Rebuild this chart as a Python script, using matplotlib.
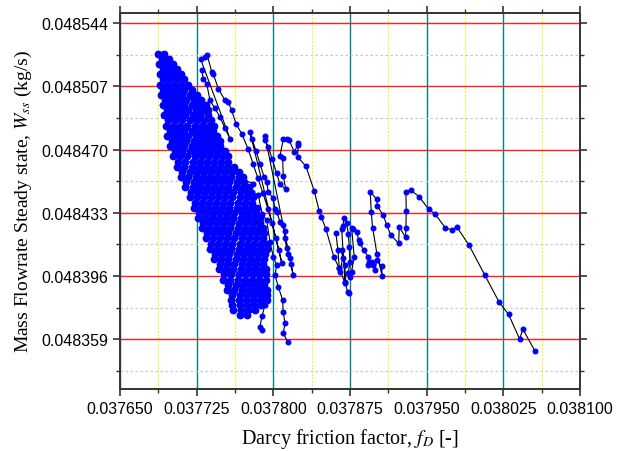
import matplotlib
matplotlib.use('Agg')
import matplotlib.pyplot as plt
from matplotlib.ticker import AutoMinorLocator, FormatStrFormatter

# dense cloud, read row by row (row y value, x values along the row)
band_row_y = [0.048526, 0.048523, 0.048520, 0.048517, 0.048514, 0.048511, 0.048508,
              0.048505, 0.048502, 0.048499, 0.048496, 0.048493, 0.048490, 0.048487,
              0.048484, 0.048481, 0.048478, 0.048475, 0.048472, 0.048469, 0.048466,
              0.048463, 0.048460, 0.048457, 0.048454, 0.048451, 0.048448, 0.048445,
              0.048442, 0.048439, 0.048436, 0.048433, 0.048430, 0.048427, 0.048424,
              0.048421, 0.048418, 0.048415, 0.048412, 0.048409, 0.048406, 0.048403,
              0.048400, 0.048397, 0.048394, 0.048391, 0.048388, 0.048385, 0.048382,
              0.048379, 0.048376, 0.048373]
band_row_x = [
    [0.037687, 0.037693],
    [0.037691, 0.037698],
    [0.037688, 0.037695, 0.037702],
    [0.037692, 0.037699, 0.037706],
    [0.037689, 0.037696, 0.037703, 0.037710],
    [0.037692, 0.037699, 0.037706, 0.037713],
    [0.037689, 0.037696, 0.037703, 0.037710, 0.037717],
    [0.037692, 0.037699, 0.037706, 0.037713, 0.037720],
    [0.037690, 0.037697, 0.037704, 0.037711, 0.037718, 0.037725],
    [0.037694, 0.037701, 0.037708, 0.037715, 0.037722, 0.037729],
    [0.037692, 0.037699, 0.037706, 0.037713, 0.037720, 0.037727, 0.037734],
    [0.037696, 0.037703, 0.037710, 0.037717, 0.037724, 0.037731, 0.037736],
    [0.037693, 0.037700, 0.037707, 0.037714, 0.037721, 0.037728, 0.037736],
    [0.037697, 0.037704, 0.037711, 0.037718, 0.037725, 0.037732, 0.037739],
    [0.037695, 0.037702, 0.037709, 0.037716, 0.037723, 0.037730, 0.037737, 0.037742],
    [0.037699, 0.037706, 0.037713, 0.037720, 0.037727, 0.037734, 0.037741],
    [0.037696, 0.037703, 0.037710, 0.037717, 0.037724, 0.037731, 0.037738, 0.037745],
    [0.037701, 0.037708, 0.037715, 0.037722, 0.037729, 0.037736, 0.037743, 0.037748],
    [0.037699, 0.037706, 0.037713, 0.037720, 0.037727, 0.037734, 0.037741, 0.037748],
    [0.037704, 0.037711, 0.037718, 0.037725, 0.037732, 0.037739, 0.037746, 0.037753],
    [0.037702, 0.037709, 0.037716, 0.037723, 0.037730, 0.037737, 0.037744, 0.037751, 0.037756],
    [0.037707, 0.037714, 0.037721, 0.037728, 0.037735, 0.037742, 0.037749, 0.037756],
    [0.037706, 0.037713, 0.037720, 0.037727, 0.037734, 0.037741, 0.037748, 0.037755, 0.037762],
    [0.037711, 0.037718, 0.037725, 0.037732, 0.037739, 0.037746, 0.037753, 0.037760, 0.037766],
    [0.037710, 0.037717, 0.037724, 0.037731, 0.037738, 0.037745, 0.037752, 0.037759, 0.037766, 0.037770],
    [0.037715, 0.037722, 0.037729, 0.037736, 0.037743, 0.037750, 0.037757, 0.037764, 0.037771],
    [0.037714, 0.037721, 0.037728, 0.037735, 0.037742, 0.037749, 0.037756, 0.037763, 0.037770, 0.037776],
    [0.037719, 0.037726, 0.037733, 0.037740, 0.037747, 0.037754, 0.037761, 0.037768, 0.037775],
    [0.037718, 0.037725, 0.037732, 0.037739, 0.037746, 0.037753, 0.037760, 0.037767, 0.037774, 0.037780],
    [0.037723, 0.037730, 0.037737, 0.037744, 0.037751, 0.037758, 0.037765, 0.037772, 0.037779],
    [0.037722, 0.037729, 0.037736, 0.037743, 0.037750, 0.037757, 0.037764, 0.037771, 0.037778, 0.037784],
    [0.037727, 0.037734, 0.037741, 0.037748, 0.037755, 0.037762, 0.037769, 0.037776, 0.037783],
    [0.037726, 0.037733, 0.037740, 0.037747, 0.037754, 0.037761, 0.037768, 0.037775, 0.037782, 0.037787],
    [0.037731, 0.037738, 0.037745, 0.037752, 0.037759, 0.037766, 0.037773, 0.037780, 0.037787],
    [0.037730, 0.037737, 0.037744, 0.037751, 0.037758, 0.037765, 0.037772, 0.037779, 0.037786, 0.037790],
    [0.037735, 0.037742, 0.037749, 0.037756, 0.037763, 0.037770, 0.037777, 0.037784, 0.037791],
    [0.037734, 0.037741, 0.037748, 0.037755, 0.037762, 0.037769, 0.037776, 0.037783, 0.037790],
    [0.037739, 0.037746, 0.037753, 0.037760, 0.037767, 0.037774, 0.037781, 0.037788, 0.037794],
    [0.037738, 0.037745, 0.037752, 0.037759, 0.037766, 0.037773, 0.037780, 0.037787, 0.037794],
    [0.037743, 0.037750, 0.037757, 0.037764, 0.037771, 0.037778, 0.037785, 0.037792],
    [0.037742, 0.037749, 0.037756, 0.037763, 0.037770, 0.037777, 0.037784, 0.037791],
    [0.037748, 0.037755, 0.037762, 0.037769, 0.037776, 0.037783, 0.037790],
    [0.037747, 0.037754, 0.037761, 0.037768, 0.037775, 0.037782, 0.037789, 0.037793],
    [0.037752, 0.037759, 0.037766, 0.037773, 0.037780, 0.037787, 0.037793],
    [0.037751, 0.037758, 0.037765, 0.037772, 0.037779, 0.037786, 0.037793],
    [0.037756, 0.037763, 0.037770, 0.037777, 0.037784, 0.037791],
    [0.037755, 0.037762, 0.037769, 0.037776, 0.037783, 0.037790, 0.037794],
    [0.037760, 0.037767, 0.037774, 0.037781, 0.037788, 0.037794],
    [0.037759, 0.037766, 0.037773, 0.037780, 0.037787, 0.037794],
    [0.037760, 0.037767, 0.037774, 0.037781, 0.037788],
    [0.037761, 0.037768, 0.037775, 0.037782],
    [0.037767, 0.037774],
]

# loose streaks right of the cloud
streak_x = [0.0377299, 0.0377315, 0.0377348, 0.0377380, 0.0377429, 0.0377478, 0.0377527, 0.0377576,
            0.0377289, 0.0377331, 0.0377354, 0.0377397, 0.0377412, 0.0377461, 0.0377527, 0.0377559,
            0.0377592, 0.0377634, 0.0377690, 0.0377752, 0.0377801, 0.0377850, 0.0377899, 0.0377947,
            0.0377987, 0.0378026, 0.0378055, 0.0378084,
            0.0377771, 0.0377788, 0.0377830, 0.0377869, 0.0377908, 0.0377935, 0.0377950, 0.0377999,
            0.0378016, 0.0378033, 0.0378065, 0.0378097, 0.0378114, 0.0378114, 0.0378130, 0.0378143,
            0.0378163, 0.0378172, 0.0378195,
            0.0377918, 0.0377918, 0.0377950, 0.0377987, 0.0378033, 0.0378065, 0.0378121, 0.0378097,
            0.0378091, 0.0378065,
            0.0378097, 0.0378136, 0.0378153, 0.0378205, 0.0378238, 0.0378244, 0.0378238, 0.0378319,
            0.0378400, 0.0378449, 0.0378469, 0.0378515, 0.0378593, 0.0378645, 0.0378703, 0.0378727,
            0.0378743]
streak_y = [0.0485163, 0.0485115, 0.0485086, 0.0484988, 0.0484940, 0.0484891, 0.0484823, 0.0484764,
            0.0485228, 0.0485243, 0.0485251, 0.0485154, 0.0485144, 0.0485056, 0.0484988, 0.0484979,
            0.0484930, 0.0484852, 0.0484793, 0.0484706, 0.0484618, 0.0484531, 0.0484443, 0.0484355,
            0.0484268, 0.0484180, 0.0484110, 0.0484034,
            0.0484803, 0.0484764, 0.0484694, 0.0484618, 0.0484542, 0.0484511, 0.0484453, 0.0484414,
            0.0484355, 0.0484336, 0.0484278, 0.0484258, 0.0484221, 0.0484180, 0.0484122, 0.0484092,
            0.0484063, 0.0484028, 0.0483966,
            0.0484780, 0.0484754, 0.0484716, 0.0484647, 0.0484560, 0.0484496, 0.0484468, 0.0484546,
            0.0484651, 0.0484663,
            0.0484760, 0.0484760, 0.0484757, 0.0484687, 0.0484725, 0.0484741, 0.0484657, 0.0484602,
            0.0484458, 0.0484340, 0.0484307, 0.0484234, 0.0484071, 0.0484005, 0.0483917, 0.0483869,
            0.0483859]

# lower streaks below the cloud
low_x = [0.0377674, 0.0377804, 0.0377788, 0.0377853, 0.0377889, 0.0377935, 0.0377967, 0.0377999,
         0.0378033, 0.0378016, 0.0378048, 0.0378091, 0.0378097, 0.0378114, 0.0378097, 0.0378140]
low_y = [0.0484531, 0.0484501, 0.0484453, 0.0484433, 0.0484326, 0.0484287, 0.0484161, 0.0484073,
         0.0484024, 0.0483966, 0.0483898, 0.0483820, 0.0483752, 0.0483683, 0.0483625, 0.0483577]
low2_x = [0.0377771, 0.0377820, 0.0377869, 0.0377935, 0.0377918, 0.0377889, 0.0377869, 0.0377886]
low2_y = [0.0484122, 0.0484005, 0.0483888, 0.0483859, 0.0483790, 0.0483724, 0.0483664, 0.0483644]

# break-out trajectory to the right
tail_x = [0.0378612, 0.0378632, 0.0378645, 0.0378652, 0.0378678, 0.0378668, 0.0378701, 0.0378703,
          0.0378668, 0.0378678, 0.0378694, 0.0378717, 0.0378733, 0.0378743, 0.0378749, 0.0378733,
          0.0378749, 0.0378766, 0.0378791, 0.0378766, 0.0378782, 0.0378815, 0.0378834, 0.0378847,
          0.0378886, 0.0378928, 0.0378938, 0.0378928, 0.0378962, 0.0378977, 0.0378994, 0.0379011,
          0.0379059, 0.0379065, 0.0379013, 0.0378971, 0.0378958, 0.0378948, 0.0379013, 0.0379016,
          0.0379075, 0.0379111, 0.0379150, 0.0379226, 0.0379232, 0.0379294, 0.0379297, 0.0379300,
          0.0379297, 0.0379346, 0.0379427, 0.0379519, 0.0379578, 0.0379681, 0.0379744, 0.0379796,
          0.0379916, 0.0380067, 0.0380207, 0.0380301, 0.0380409, 0.0380441, 0.0380559]
tail_y = [0.0484213, 0.0484110, 0.0484009, 0.0483986, 0.0484063, 0.0484112, 0.0484024, 0.0483923,
          0.0484238, 0.0484254, 0.0484297, 0.0484268, 0.0484209, 0.0484132, 0.0484044, 0.0483976,
          0.0483956, 0.0483986, 0.0484073, 0.0484243, 0.0484233, 0.0484219, 0.0484174, 0.0484151,
          0.0484110, 0.0484073, 0.0484044, 0.0484024, 0.0484040, 0.0484024, 0.0483995, 0.0484053,
          0.0484018, 0.0483960, 0.0484092, 0.0484244, 0.0484332, 0.0484453, 0.0484408, 0.0484371,
          0.0484316, 0.0484256, 0.0484198, 0.0484153, 0.0484248, 0.0484186, 0.0484244, 0.0484340,
          0.0484453, 0.0484462, 0.0484424, 0.0484351, 0.0484326, 0.0484244, 0.0484230, 0.0484247,
          0.0484139, 0.0483968, 0.0483810, 0.0483736, 0.0483593, 0.0483650, 0.0483522]

x_ticks = [0.037650, 0.037725, 0.037800, 0.037875, 0.037950, 0.038025, 0.038100]
y_ticks = [0.048359, 0.048396, 0.048433, 0.048470, 0.048507, 0.048544]

plt.rcParams['mathtext.fontset'] = 'stix'

fig = plt.figure(figsize=(6.29, 4.52), dpi=100)
ax = fig.add_axes([120 / 629, 62 / 452, 460 / 629, 376.3 / 452])

style = dict(color='black', lw=0.8, marker='o', ms=3.3,
             mfc='#0000ff', mec='#0000ff', zorder=3)

for xs, ys in [(streak_x, streak_y), (low_x, low_y), (low2_x, low2_y), (tail_x, tail_y)]:
    ax.plot(xs, ys, **style)

# cloud drawn as a snake through its rows
bx, by = [], []
for i, (yv, row) in enumerate(zip(band_row_y, band_row_x)):
    row = row if i % 2 == 0 else row[::-1]
    bx += row
    by += [yv] * len(row)
ax.plot(bx, by, **dict(style, ms=4.6, lw=0.6))

ax.set_xlim(0.03765, 0.0381)
ax.set_ylim(0.04833, 0.04855)
ax.set_xticks(x_ticks)
ax.set_yticks(y_ticks)
ax.xaxis.set_minor_locator(AutoMinorLocator(2))
ax.yaxis.set_minor_locator(AutoMinorLocator(2))
ax.xaxis.set_major_formatter(FormatStrFormatter('%.6f'))
ax.yaxis.set_major_formatter(FormatStrFormatter('%.6f'))

ax.set_axisbelow(True)
ax.grid(which='major', axis='y', color='#ff2020', lw=1.0)
ax.grid(which='major', axis='x', color='#008080', lw=1.0)
ax.grid(which='minor', axis='y', color='#c8c8c8', lw=0.9, ls=(0, (2, 2)))
ax.grid(which='minor', axis='x', color='#f5f000', lw=0.8, ls=(0, (1.5, 1.5)))

for s in ax.spines.values():
    s.set_color('#333333')
    s.set_linewidth(1.4)
ax.tick_params(which='both', direction='out', top=True, right=True, color='#333333')
ax.tick_params(which='major', length=5, width=1.2, labelsize=11.5)
ax.tick_params(which='minor', length=3, width=1.0)
for lab in ax.get_xticklabels() + ax.get_yticklabels():
    lab.set_family('Liberation Sans')

ax.set_xlabel('Darcy friction factor, $f_D$ [-]', fontsize=14.5, family='Liberation Serif', labelpad=7)
ax.set_ylabel('Mass Flowrate Steady state, $W_{ss}$ (kg/s)', fontsize=14, family='Liberation Serif', labelpad=5)

fig.savefig('out.png', dpi=100)
